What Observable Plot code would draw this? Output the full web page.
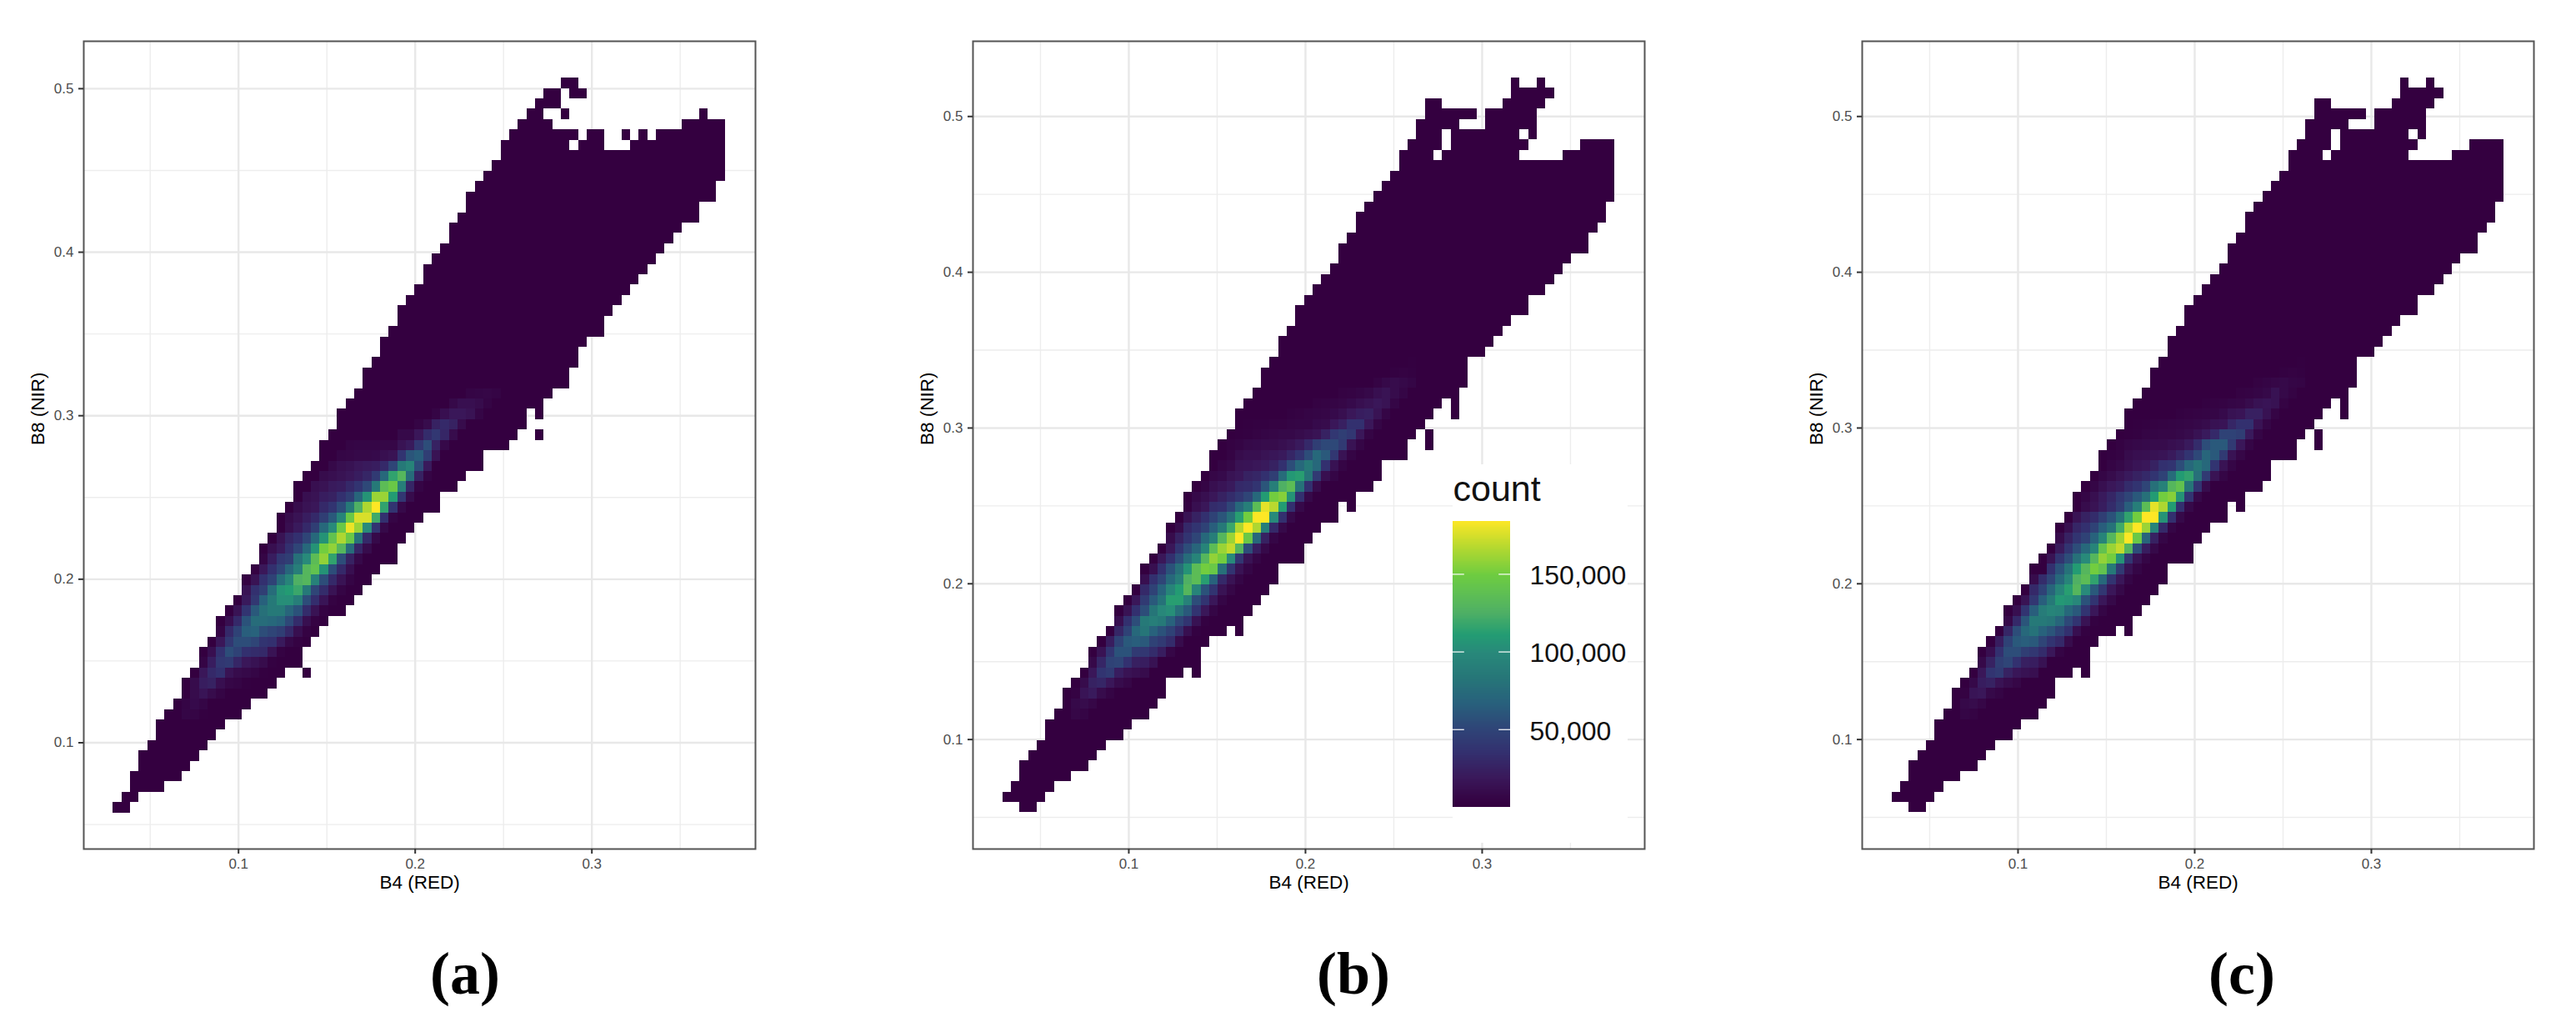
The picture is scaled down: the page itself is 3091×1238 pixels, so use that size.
<!DOCTYPE html>
<html><head><meta charset="utf-8">
<script src="https://cdn.jsdelivr.net/npm/d3@7"></script>
<script src="https://cdn.jsdelivr.net/npm/@observablehq/plot@0.6"></script>
<style>
html,body{margin:0;padding:0;background:#fff;overflow:hidden}
#page{position:relative;width:3091px;height:1238px;background:#fff;font-family:"Liberation Sans",sans-serif}
#page>svg,#page>div.p{position:absolute}
.cap{position:absolute;top:1132px;transform:translateX(-50%);font:bold 72px/1 "Liberation Serif",serif;color:#000}
</style></head><body><div id="page"></div>
<script>
// Occupied bin runs per row (top row first): pairs of [fromColumn, toColumn)
const spansA=[[52,54],[50,52,53,55],[49,52],[48,50,52,53,68,69],[47,51,66,71],[46,54,55,57,59,60,61,62,63,71],[45,53,54,57,60,71],[45,71],[44,71],[43,71],[42,70],[41,70],[41,68],[40,68],[39,66],[39,65],[38,64],[37,63],[36,62],[36,61],[35,60],[34,59],[33,58],[33,57],[32,57],[31,55],[31,54],[30,54],[29,53],[29,53],[28,51],[27,50],[26,48,49,50],[26,48],[25,47,49,50],[24,46],[24,43],[23,43],[22,41],[21,40],[21,38],[20,38],[19,36],[19,35],[18,34],[17,33],[17,33],[16,31],[15,30],[15,29],[14,28],[13,27],[12,25],[12,24],[11,23],[10,22],[10,22],[9,20,22,23],[8,19],[8,18],[7,16],[6,15],[5,13],[5,12],[4,11],[3,10],[3,9],[2,8],[2,6],[1,3],[0,2]];
const spansBC=[[59,60,62,63],[59,64],[49,51,58,63],[49,55,56,62],[48,53,56,62],[48,51,52,60,61,62],[47,51,52,61,67,71],[46,50,51,60,65,71],[46,71],[45,71],[44,71],[43,71],[42,70],[41,70],[41,69],[40,68],[39,68],[39,66],[38,65],[37,64],[36,63],[35,61],[34,61],[34,59],[33,58],[32,57],[32,56],[31,54],[30,54],[30,54],[29,53],[28,51,52,53],[27,50,52,53],[27,49],[26,48,49,50],[25,47,49,50],[24,47],[24,44],[23,44],[22,43],[21,41],[21,39,40,41],[20,39],[19,37],[19,36],[18,35],[17,35],[16,32],[16,32],[15,31],[14,30],[13,29],[13,28],[12,26,27,28],[11,24],[10,23],[10,23],[9,21,22,23],[8,19],[7,19],[7,18],[6,17],[5,15],[5,14],[4,12],[3,11],[2,10],[2,8],[1,6],[0,5],[2,4]];

// Counts in thousands for the brighter bins: [row, firstColumn, ...counts]
const heatA=[[30,41,5,6,7,5],[31,39,8,12,12,10,5],[32,37,5,12,18,18,15,6],[33,35,5,10,25,30,25,10],[34,33,8,8,18,32,40,28,10],[35,27,5,6,6,6,7,7,15,20,40,55,25,8],[36,26,6,7,8,8,9,12,15,38,60,65,45,15],[37,25,8,12,14,18,20,22,30,50,85,95,55,20],[38,24,10,12,15,18,22,28,42,72,115,130,75,25,5],[39,23,12,15,20,22,30,38,52,85,135,145,90,28,5],[40,22,12,15,22,25,35,45,70,105,160,160,110,40,10],[41,21,10,15,18,30,38,55,85,125,165,184,115,38,8],[42,20,10,15,22,30,45,62,95,145,175,175,120,35,5],[43,20,12,20,30,45,72,100,145,180,160,100,38,8],[44,19,15,28,35,50,72,105,140,165,145,80,30,8],[45,18,12,20,35,50,72,105,150,158,130,75,28,10],[46,17,5,22,40,45,78,100,135,158,115,55,25,8],[47,16,3,18,35,50,70,90,130,140,105,55,30,12],[48,15,3,15,35,48,75,95,125,130,92,55,30,15,5],[49,15,15,35,45,75,105,110,118,85,50,32,15,5],[50,15,20,40,66,85,102,102,90,55,33,16,3],[51,14,15,38,62,78,85,85,70,58,32,15,3],[52,13,12,30,58,75,75,72,68,52,32,12,3],[53,12,5,30,48,65,68,55,50,45,30,12,3],[54,12,18,40,55,55,50,38,35,20,8,3],[55,11,12,35,55,48,35,32,30,15,3],[56,10,5,22,40,42,28,18,14,10,2],[57,10,18,30,35,15,10,8,6,1],[58,9,10,22,25,12,7,5,1],[59,9,10,16,10,5],[60,8,5,9,6],[61,8,6,5,1]];
const heatB=[[27,47,1],[28,45,2,3,2],[29,43,4,8,10,8,6],[30,39,3,4,6,8,12,15,10,6],[31,36,3,4,5,7,9,12,15,18,15,6],[32,33,2,3,5,6,7,9,12,18,22,24,15,6],[33,28,1,2,2,3,3,5,6,6,9,10,18,24,35,35,18,6],[34,27,1,2,4,6,7,8,8,10,12,15,25,40,45,40,18,5],[35,26,3,5,8,9,10,10,12,15,20,30,45,52,52,42,15,6],[36,26,4,10,12,12,15,17,20,28,38,55,72,62,40,15,5],[37,25,5,8,15,16,18,20,25,35,55,72,85,72,35,14,5],[38,24,7,9,15,18,25,28,35,45,75,108,112,82,42,12,6],[39,23,5,12,16,20,30,32,38,60,90,125,135,80,35,10],[40,22,8,12,18,25,32,40,50,72,110,150,155,105,35,8],[41,21,2,12,18,32,35,50,72,90,135,178,168,110,35,8],[42,21,15,25,35,48,60,78,112,150,184,184,100,35,8],[43,20,10,30,38,48,65,85,118,165,184,165,90,30,8],[44,19,10,25,38,50,72,90,130,160,184,145,72,25,6],[45,19,18,38,55,70,95,135,160,170,130,55,22,8],[46,18,18,35,55,75,95,130,158,150,100,40,15,6],[47,17,12,35,58,78,105,135,150,145,78,38,15,6],[48,16,12,35,50,72,90,125,135,112,68,30,15,6],[49,16,30,48,68,95,110,130,95,58,38,15,7],[50,15,18,42,62,80,112,112,92,55,38,18,6],[51,14,15,35,55,82,98,102,78,62,38,18,6],[52,13,12,35,55,85,90,85,68,50,38,14,2],[53,13,28,48,72,82,68,58,48,32,12,2],[54,12,22,48,62,65,62,48,42,32,10],[55,11,15,38,58,58,42,40,32,22,7],[56,10,8,28,48,50,36,24,22,14],[57,10,18,38,42,22,15,12,10],[58,9,10,25,28,18,10,7],[59,8,3,16,20,10,5],[60,8,8,10,7],[61,8,7,5]];
const heatC=[[27,47,1],[28,45,2,3,2],[29,42,3,5,7,8,6,5],[30,40,3,4,6,8,14,8,4],[31,36,2,3,4,6,7,10,14,16,14,4],[32,33,2,3,4,5,6,9,14,16,24,24,14,5],[33,28,1,2,3,4,5,6,7,8,10,14,16,28,35,35,15,6],[34,27,1,2,5,6,7,7,8,10,14,20,30,48,48,45,20,6],[35,26,3,7,8,9,10,10,12,14,20,32,55,62,62,42,18,6],[36,25,2,4,10,12,13,14,16,20,28,38,52,70,62,42,15,7],[37,25,5,8,12,16,18,25,35,38,55,72,82,72,38,15,6],[38,24,6,10,15,20,25,30,38,48,75,110,115,78,42,15,6],[39,23,6,12,18,22,32,38,50,78,92,130,140,82,38,10],[40,22,6,12,20,28,40,50,62,78,110,150,155,105,38,8],[41,22,10,15,22,32,45,65,90,135,178,165,110,35,8],[42,21,15,25,32,45,58,80,115,150,184,184,105,35,8],[43,20,12,28,35,48,65,80,120,165,184,160,95,30,6],[44,19,10,25,38,48,68,95,130,160,184,145,70,25,6],[45,19,20,38,55,72,95,140,160,170,130,55,22,8],[46,18,15,38,55,78,100,130,158,150,105,40,15,6],[47,18,35,58,80,110,130,150,140,85,42,15,6],[48,16,10,32,50,72,95,125,135,115,72,38,18,6],[49,16,30,48,70,95,112,130,100,62,40,18,8],[50,15,15,40,65,85,108,105,98,58,38,18,8],[51,14,12,38,65,88,95,92,72,62,38,18,6],[52,13,8,30,60,85,85,82,70,52,38,15,2],[53,13,28,55,72,80,68,60,48,35,12,2],[54,12,22,48,62,65,62,50,38,30,10],[55,11,12,35,55,55,45,40,32,18,5],[56,10,8,25,45,50,36,24,22,14],[57,10,18,38,42,25,17,14,12],[58,9,8,22,25,15,10,7],[59,8,3,16,18,8,5],[60,8,8,10,7],[61,8,6,4]];

// Bin grid and axis domains of the panels
const binsA={x0:0.0290,dx:0.00488,y0:0.5065,dy:0.00633};
const binsBC={x0:0.02863,dx:0.00488,y0:0.5248,dy:0.006645};
const xDomainA=[0.0124,0.3926], yDomainA=[0.035,0.529];
const xDomainBC=[0.0118,0.3920], yDomainBC=[0.0297,0.5483];
const baseCount=300;

// Axis ticks, titles and legend
const xMajor=[0.1,0.2,0.3], xMinor=[0.05,0.15,0.25,0.35];
const yMajor=[0.1,0.2,0.3,0.4,0.5], yMinor=[0.05,0.15,0.25,0.35,0.45];
const xTitle="B4 (RED)", yTitle="B8 (NIR)";
const legendTitle="count", legendTicks=[50000,100000,150000], countMax=184000;
// Colours of the picture's (slightly shifted) viridis ramp
const rampStops=[0,0.03,0.1,0.19,0.27,0.36,0.45,0.54,0.6,0.68,0.76,0.81,0.91,1];
const rampColors=["#340040","#350545","#3a185a","#33306f","#2f4477","#28607c","#267678","#28897a","#239c73","#4fb064","#62c24f","#6ecc40","#b8d92f","#fde725"];
const colorScale={type:"linear",domain:rampStops.map(t=>t*countMax),range:rampColors,interpolate:"rgb"};

function cellsOf(spans,heat,b){
  const hot=new Map();
  for(const [r,c0,...vals] of heat) vals.forEach((v,i)=>hot.set(r+":"+(c0+i),v*1000));
  const out=[];
  spans.forEach((sp,r)=>{
    for(let s=0;s<sp.length;s+=2) for(let c=sp[s];c<sp[s+1];c++){
      out.push({x1:b.x0+c*b.dx,x2:b.x0+(c+1)*b.dx,y1:b.y0-(r+1)*b.dy,y2:b.y0-r*b.dy,count:hot.get(r+":"+c)??baseCount});
    }
  });
  return out;
}

const font='"Liberation Sans",Arial,sans-serif';
function panel(spans,heat,bins,xDomain,yDomain,left){
  const fig=Plot.plot({
    width:916,height:1100,marginLeft:100,marginRight:10,marginTop:49,marginBottom:82,
    style:{fontFamily:font,background:"transparent",overflow:"visible"},
    x:{domain:xDomain},y:{domain:yDomain},color:colorScale,
    marks:[
      Plot.gridX(xMinor,{stroke:"#ededed",strokeOpacity:1,strokeWidth:1.4}),
      Plot.gridY(yMinor,{stroke:"#ededed",strokeOpacity:1,strokeWidth:1.4}),
      Plot.gridX(xMajor,{stroke:"#e8e8e8",strokeOpacity:1,strokeWidth:2.4}),
      Plot.gridY(yMajor,{stroke:"#e8e8e8",strokeOpacity:1,strokeWidth:2.4}),
      Plot.rect(cellsOf(spans,heat,bins),{x1:"x1",x2:"x2",y1:"y1",y2:"y2",fill:"count",shapeRendering:"crispEdges"}),
      Plot.frame({stroke:"#555",strokeWidth:2}),
      Plot.axisX({ticks:xMajor,tickFormat:".1f",tickSize:6,tickPadding:5,label:null,fontSize:17,fill:"#4d4d4d",stroke:"#333",strokeWidth:2}),
      Plot.axisY({ticks:yMajor,tickFormat:".1f",tickSize:6,tickPadding:6,label:null,fontSize:17,fill:"#4d4d4d",stroke:"#333",strokeWidth:2}),
      Plot.text([xTitle],{frameAnchor:"bottom",lineAnchor:"middle",dy:40,fontSize:22.5,fill:"#000"}),
      Plot.text([yTitle],{frameAnchor:"left",lineAnchor:"middle",rotate:-90,dx:-55,fontSize:22.5,fill:"#000"})
    ]
  });
  fig.style.position="absolute";fig.style.left=(left-100)+"px";fig.style.top="0";
  return fig;
}

function legend(left,top){
  const step=500, slices=d3.range(0,countMax,step);
  const fig=Plot.plot({
    width:210,height:454,marginLeft:0,marginRight:141,marginTop:68,marginBottom:43,
    style:{fontFamily:font,background:"#fff"},
    x:{domain:[0,1],axis:null},y:{domain:[0,countMax],axis:null},color:colorScale,
    marks:[
      Plot.rect(slices,{x1:0,x2:1,y1:d=>d,y2:d=>d+step,fill:d=>d,shapeRendering:"crispEdges"}),
      Plot.ruleY(legendTicks,{x1:0,x2:0.2,stroke:"#fff",strokeOpacity:.85,strokeWidth:1.4}),
      Plot.ruleY(legendTicks,{x1:0.8,x2:1,stroke:"#fff",strokeOpacity:.85,strokeWidth:1.4}),
      Plot.text(legendTicks,{x:1,y:d=>d,text:d=>d3.format(",")(d),textAnchor:"start",dx:23,dy:2,fontSize:32,fill:"#111"}),
      Plot.text([legendTitle],{frameAnchor:"top-left",lineAnchor:"bottom",dy:-25,fontSize:43,fill:"#111"})
    ]
  });
  fig.style.position="absolute";fig.style.left=left+"px";fig.style.top=top+"px";
  return fig;
}

const page=document.getElementById("page");
page.append(
  panel(spansA,heatA,binsA,xDomainA,yDomainA,100),
  panel(spansBC,heatB,binsBC,xDomainBC,yDomainBC,1167),
  panel(spansBC,heatC,binsBC,xDomainBC,yDomainBC,2234),
  legend(1743,557)
);
[["(a)",558],["(b)",1624],["(c)",2690]].forEach(([t,x])=>{
  const d=document.createElement("div");d.className="cap";d.textContent=t;d.style.left=x+"px";page.append(d);
});
</script></body></html>
